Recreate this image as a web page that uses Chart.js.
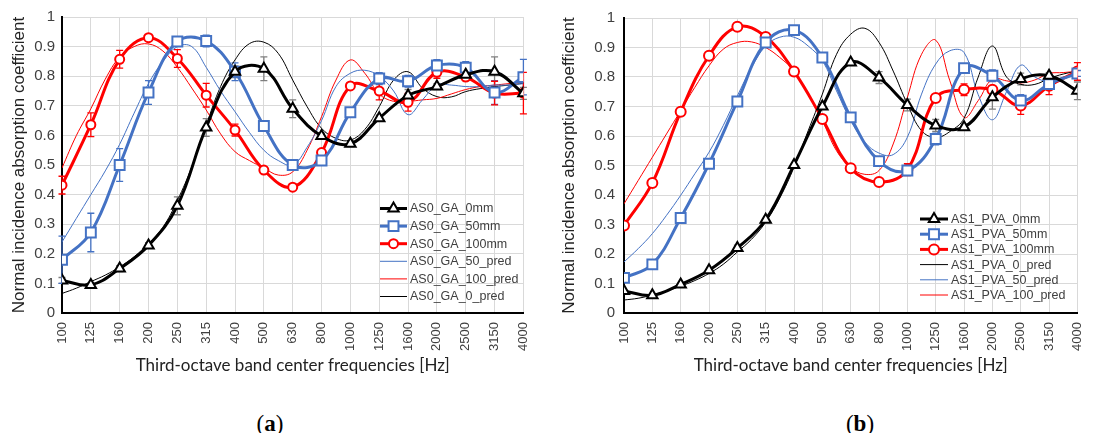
<!DOCTYPE html>
<html>
<head>
<meta charset="utf-8">
<script src="https://cdn.jsdelivr.net/npm/chart.js@4/dist/chart.umd.min.js"></script>
<style>
  body { margin: 0; width: 1097px; height: 433px; background: #fff; position: relative; overflow: hidden; }
  .panel { position: absolute; top: 0; }
  .cap { position: absolute; top: 411px; width: 60px; text-align: center; font: 23px "Liberation Serif", serif; color: #000; line-height: 26px; }
</style>
</head>
<body>
<div class="panel" style="left:0"><canvas id="chartA" width="548" height="380"></canvas></div>
<div class="panel" style="left:550px"><canvas id="chartB" width="552" height="380"></canvas></div>
<div class="cap" style="left:240px">(<b>a</b>)</div>
<div class="cap" style="left:830px">(<b>b</b>)</div>
<script>
// --- 1. Data ---
const FREQS = ['100', '125', '160', '200', '250', '315', '400', '500', '630', '800', '1000', '1250', '1600', '2000', '2500', '3150', '4000'];

// (a) measured, one value per band
const GA_0MM   = [0.11, 0.095, 0.15, 0.228, 0.362, 0.627, 0.815, 0.825, 0.69, 0.598, 0.572, 0.658, 0.735, 0.765, 0.805, 0.815, 0.742];
const GA_50MM  = [0.18, 0.272, 0.50, 0.745, 0.917, 0.919, 0.815, 0.632, 0.50, 0.515, 0.678, 0.792, 0.783, 0.836, 0.829, 0.745, 0.797];
const GA_100MM = [0.432, 0.636, 0.857, 0.93, 0.86, 0.736, 0.618, 0.483, 0.425, 0.542, 0.767, 0.75, 0.712, 0.813, 0.797, 0.743, 0.743];
const GA_0MM_ERR   = [0.01, 0, 0.01, 0.01, 0.03, 0.03, 0.02, 0.04, 0.03, 0.01, 0.01, 0.01, 0.02, 0.01, 0.02, 0.05, 0.02];
const GA_50MM_ERR  = [0.08, 0.065, 0.055, 0.04, 0.01, 0.02, 0.03, 0.01, 0.01, 0.01, 0.01, 0.02, 0.02, 0.02, 0.02, 0.04, 0.06];
const GA_100MM_ERR = [0.03, 0.04, 0.03, 0.005, 0.03, 0.04, 0.02, 0.01, 0.01, 0.01, 0.01, 0.03, 0.03, 0.02, 0.01, 0.04, 0.07];

// (a) predictions, read every half band (100, between 100/125, 125, ...)
const GA_50_PRED  = [0.24, 0.32, 0.40, 0.48, 0.57, 0.675, 0.775, 0.85, 0.90, 0.90, 0.83, 0.75, 0.68, 0.61, 0.55, 0.515, 0.50,
                     0.56, 0.65, 0.765, 0.81, 0.82, 0.80, 0.75, 0.67, 0.72, 0.77, 0.77, 0.765, 0.765, 0.77, 0.77, 0.775];
const GA_100_PRED = [0.49, 0.60, 0.69, 0.79, 0.865, 0.90, 0.909, 0.885, 0.83, 0.76, 0.686, 0.605, 0.545, 0.515, 0.49, 0.466, 0.477,
                     0.55, 0.663, 0.787, 0.855, 0.81, 0.74, 0.715, 0.715, 0.72, 0.725, 0.74, 0.755, 0.765, 0.77, 0.775, 0.78];
const GA_0_PRED   = [0.066, 0.084, 0.106, 0.128, 0.156, 0.19, 0.235, 0.29, 0.38, 0.494, 0.635, 0.765, 0.855, 0.91, 0.915, 0.877, 0.787,
                     0.697, 0.624, 0.59, 0.584, 0.62, 0.697, 0.787, 0.815, 0.76, 0.731, 0.73, 0.748, 0.758, 0.765, 0.77, 0.776];

// (b) measured
const PVA_0MM   = [0.075, 0.06, 0.097, 0.145, 0.22, 0.316, 0.502, 0.70, 0.849, 0.798, 0.705, 0.636, 0.63, 0.731, 0.793, 0.804, 0.753];
const PVA_50MM  = [0.119, 0.165, 0.322, 0.506, 0.717, 0.917, 0.959, 0.866, 0.663, 0.515, 0.483, 0.59, 0.83, 0.804, 0.72, 0.776, 0.812];
const PVA_100MM = [0.297, 0.441, 0.682, 0.872, 0.97, 0.936, 0.819, 0.658, 0.491, 0.444, 0.486, 0.729, 0.757, 0.757, 0.703, 0.77, 0.819];
const PVA_0MM_ERR   = [0, 0, 0, 0, 0.01, 0, 0, 0, 0, 0.02, 0.02, 0.02, 0.01, 0.04, 0.02, 0.01, 0.03];
const PVA_50MM_ERR  = [0, 0, 0, 0, 0, 0, 0, 0, 0, 0, 0.01, 0.02, 0.01, 0.02, 0.02, 0.01, 0.01];
const PVA_100MM_ERR = [0, 0.01, 0.01, 0, 0, 0, 0, 0, 0, 0, 0.02, 0.01, 0.02, 0.01, 0.03, 0.03, 0.03];

// (b) predictions, half band steps
const PVA_0_PRED   = [0.044, 0.05, 0.061, 0.075, 0.091, 0.11, 0.134, 0.165, 0.207, 0.25, 0.308, 0.39, 0.494, 0.618, 0.742, 0.877, 0.945,
                      0.965, 0.917, 0.82, 0.708, 0.618, 0.595, 0.615, 0.66, 0.80, 0.905, 0.80, 0.775, 0.775, 0.795, 0.81, 0.82];
const PVA_50_PRED  = [0.173, 0.218, 0.269, 0.331, 0.399, 0.472, 0.545, 0.635, 0.736, 0.832, 0.905, 0.935, 0.935, 0.905, 0.855, 0.753, 0.652,
                      0.579, 0.542, 0.537, 0.596, 0.742, 0.844, 0.889, 0.883, 0.74, 0.655, 0.75, 0.84, 0.80, 0.785, 0.80, 0.81];
const PVA_100_PRED = [0.37, 0.449, 0.528, 0.607, 0.686, 0.765, 0.838, 0.894, 0.917, 0.919, 0.90, 0.866, 0.82, 0.742, 0.652, 0.55, 0.494,
                      0.47, 0.483, 0.573, 0.731, 0.877, 0.925, 0.787, 0.663, 0.72, 0.793, 0.787, 0.78, 0.79, 0.812, 0.815, 0.82];

const BLACK = '#000000';
const BLUE = '#4472C4';
const RED = '#FF0000';
const TEXT = '#404040';

// --- 2. Plugins ---
// error bars, drawn under the lines so the white markers cover the middle
const errorBars = {
    id: 'errorBars',
    beforeDatasetsDraw(chart) {
        const { ctx, scales: { x, y } } = chart;
        chart.data.datasets.forEach(ds => {
            if (!ds.errors) return;
            ctx.save();
            ctx.strokeStyle = ds.errorColor;
            ctx.lineWidth = 1.3;
            ds.errors.forEach((e, k) => {
                if (!e) return;
                const px = x.getPixelForValue(ds.data[k].x);
                const top = y.getPixelForValue(ds.data[k].y + e);
                const bot = y.getPixelForValue(ds.data[k].y - e);
                ctx.beginPath();
                ctx.moveTo(px, top); ctx.lineTo(px, bot);
                ctx.moveTo(px - 3.5, top); ctx.lineTo(px + 3.5, top);
                ctx.moveTo(px - 3.5, bot); ctx.lineTo(px + 3.5, bot);
                ctx.stroke();
            });
            ctx.restore();
        });
    }
};

function drawMarker(ctx, style, r, cx, cy) {
    if (Chart.helpers && Chart.helpers.drawPoint) {
        Chart.helpers.drawPoint(ctx, { pointStyle: style, radius: r, borderWidth: ctx.lineWidth, rotation: 0 }, cx, cy);
        return;
    }
    ctx.beginPath();
    if (style === 'circle') ctx.arc(cx, cy, r, 0, Math.PI * 2);
    else if (style === 'rect') { const s = r * Math.SQRT1_2; ctx.rect(cx - s, cy - s, 2 * s, 2 * s); }
    else { ctx.moveTo(cx, cy - r); ctx.lineTo(cx + r * 0.866, cy + r / 2); ctx.lineTo(cx - r * 0.866, cy + r / 2); ctx.closePath(); }
    ctx.fill(); ctx.stroke();
}

// legend inside the plot, bottom right like the original
const inLegend = {
    id: 'inLegend',
    afterDraw(chart, args, o) {
        const ctx = chart.ctx;
        ctx.save();
        ctx.textBaseline = 'middle';
        ctx.font = o.font;
        chart.data.datasets.forEach((ds, row) => {
            const y = o.y + row * o.rowH;
            ctx.strokeStyle = ds.borderColor;
            ctx.lineWidth = ds.borderWidth;
            ctx.beginPath();
            ctx.moveTo(o.x, y);
            ctx.lineTo(o.x + o.lineW, y);
            ctx.stroke();
            if (ds.pointRadius) {
                ctx.fillStyle = '#fff';
                ctx.lineWidth = ds.pointBorderWidth;
                drawMarker(ctx, ds.pointStyle, ds.pointRadius, o.x + o.lineW / 2, y);
            }
            ctx.fillStyle = TEXT;
            ctx.fillText(ds.label, o.x + o.lineW + 3, y + 0.5);
        });
        ctx.restore();
    }
};

// --- 3. Chart builder ---
function measured(label, values, errors, color, style, radius, errColor) {
    return {
        label: label,
        data: values.map((v, k) => ({ x: k, y: v })),
        borderColor: color,
        borderWidth: 3,
        pointStyle: style,
        pointRadius: radius,
        pointBorderWidth: 2,
        pointBackgroundColor: '#fff',
        pointBorderColor: color,
        tension: 0.4,
        errors: errors,
        errorColor: errColor || color
    };
}

function predicted(label, values, color) {
    return {
        label: label,
        data: values.map((v, k) => ({ x: k / 2, y: v })),
        borderColor: color,
        borderWidth: 1,
        pointRadius: 0,
        tension: 0.4
    };
}

function createChart(id, datasets, axisW, tickPad, padRight, legend) {
    const ctx = document.getElementById(id).getContext('2d');
    return new Chart(ctx, {
        type: 'line',
        data: { datasets: datasets },
        options: {
            responsive: false,
            animation: false,
            events: [],
            layout: { padding: { top: 17, right: padRight, left: 0, bottom: 0 } },
            plugins: {
                legend: { display: false },
                tooltip: { enabled: false },
                inLegend: legend
            },
            scales: {
                x: {
                    type: 'linear',
                    min: 0,
                    max: FREQS.length - 1,
                    afterFit: s => { s.height = 67; },
                    ticks: {
                        stepSize: 1,
                        autoSkip: false,
                        minRotation: 90,
                        maxRotation: 90,
                        padding: 9,
                        color: TEXT,
                        font: { family: '"Liberation Sans", Arial, sans-serif', size: 13 },
                        callback: v => FREQS[v]
                    },
                    grid: { color: '#d9d9d9', drawTicks: false },
                    border: { color: BLACK, width: 2 },
                    title: {
                        display: true,
                        text: 'Third-octave band center frequencies [Hz]',
                        color: '#222',
                        font: { family: 'Lato, "Open Sans", sans-serif', size: 17 },
                        padding: { top: 0, bottom: 4 }
                    }
                },
                y: {
                    min: 0,
                    max: 1,
                    afterFit: s => { s.width = axisW; },
                    ticks: {
                        stepSize: 0.1,
                        padding: tickPad,
                        color: TEXT,
                        font: { family: '"Liberation Sans", Arial, sans-serif', size: 15 },
                        callback: v => String(+v.toFixed(1))
                    },
                    grid: { color: '#d9d9d9', drawTicks: false },
                    border: { color: BLACK, width: 2 },
                    title: {
                        display: true,
                        text: 'Normal incidence absorption coefficient',
                        color: '#222',
                        font: { family: '"Liberation Sans", Arial, sans-serif', size: 17 },
                        padding: { top: 9, bottom: 0 }
                    }
                }
            }
        },
        plugins: [errorBars, inLegend]
    });
}

document.addEventListener('DOMContentLoaded', () => {
    createChart('chartA', [
        measured('AS0_GA_0mm', GA_0MM, GA_0MM_ERR, BLACK, 'triangle', 6, '#7f7f7f'),
        measured('AS0_GA_50mm', GA_50MM, GA_50MM_ERR, BLUE, 'rect', 7),
        measured('AS0_GA_100mm', GA_100MM, GA_100MM_ERR, RED, 'circle', 4.5),
        predicted('AS0_GA_50_pred', GA_50_PRED, BLUE),
        predicted('AS0_GA_100_pred', GA_100_PRED, RED),
        predicted('AS0_GA_0_pred', GA_0_PRED, BLACK)
    ], 62, 7, 20, { x: 380, y: 208.5, rowH: 17.6, lineW: 27, font: '12.5px "Liberation Sans", Arial, sans-serif' });

    createChart('chartB', [
        measured('AS1_PVA_0mm', PVA_0MM, PVA_0MM_ERR, BLACK, 'triangle', 6, '#7f7f7f'),
        measured('AS1_PVA_50mm', PVA_50MM, PVA_50MM_ERR, BLUE, 'rect', 7),
        measured('AS1_PVA_100mm', PVA_100MM, PVA_100MM_ERR, RED, 'circle', 5),
        predicted('AS1_PVA_0_pred', PVA_0_PRED, BLACK),
        predicted('AS1_PVA_50_pred', PVA_50_PRED, BLUE),
        predicted('AS1_PVA_100_pred', PVA_100_PRED, RED)
    ], 74, 9, 10, { x: 370, y: 219, rowH: 15.2, lineW: 28, font: '12.5px "Liberation Sans", Arial, sans-serif' });
});
</script>
</body>
</html>
